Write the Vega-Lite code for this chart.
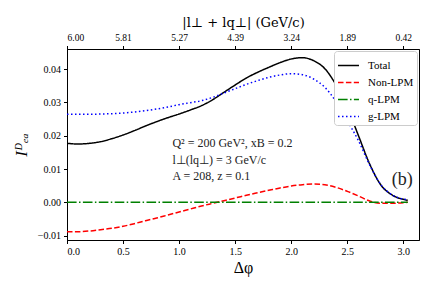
{
  "$schema": "https://vega.github.io/schema/vega-lite/v6.json",
  "width": 352,
  "height": 191,
  "autosize": "none",
  "padding": {"left": 67, "top": 49, "right": 17, "bottom": 51},
  "background": "white",
  "config": {
    "view": {"stroke": "black", "strokeWidth": 1},
    "font": "Liberation Serif",
    "axis": {
      "grid": false,
      "domainColor": "black",
      "domainWidth": 1,
      "tickColor": "black",
      "tickSize": 3.5,
      "labelColor": "black",
      "labelFont": "Liberation Serif",
      "labelFontSize": 10,
      "labelOverlap": false,
      "titleFont": "Liberation Serif",
      "titleFontWeight": "normal",
      "titleColor": "black",
      "labelPadding": 3
    },
    "legend": {
      "labelFont": "Liberation Serif",
      "labelFontSize": 11,
      "labelColor": "black"
    }
  },
  "datasets": {
    "curves": [
      {"dphi": 0.0, "series": "Total", "value": 0.0177},
      {"dphi": 0.1, "series": "Total", "value": 0.0175},
      {"dphi": 0.2, "series": "Total", "value": 0.0177},
      {"dphi": 0.3, "series": "Total", "value": 0.0182},
      {"dphi": 0.4, "series": "Total", "value": 0.0191},
      {"dphi": 0.5, "series": "Total", "value": 0.0202},
      {"dphi": 0.6, "series": "Total", "value": 0.0215},
      {"dphi": 0.7, "series": "Total", "value": 0.0229},
      {"dphi": 0.8, "series": "Total", "value": 0.0242},
      {"dphi": 0.9, "series": "Total", "value": 0.0254},
      {"dphi": 1.0, "series": "Total", "value": 0.0265},
      {"dphi": 1.1, "series": "Total", "value": 0.0277},
      {"dphi": 1.2, "series": "Total", "value": 0.0290},
      {"dphi": 1.3, "series": "Total", "value": 0.0308},
      {"dphi": 1.4, "series": "Total", "value": 0.0330},
      {"dphi": 1.5, "series": "Total", "value": 0.0352},
      {"dphi": 1.6, "series": "Total", "value": 0.0373},
      {"dphi": 1.7, "series": "Total", "value": 0.0390},
      {"dphi": 1.8, "series": "Total", "value": 0.0405},
      {"dphi": 1.9, "series": "Total", "value": 0.0419},
      {"dphi": 2.0, "series": "Total", "value": 0.0430},
      {"dphi": 2.1, "series": "Total", "value": 0.0434},
      {"dphi": 2.2, "series": "Total", "value": 0.0425},
      {"dphi": 2.3, "series": "Total", "value": 0.0401},
      {"dphi": 2.4, "series": "Total", "value": 0.0352},
      {"dphi": 2.5, "series": "Total", "value": 0.0285},
      {"dphi": 2.6, "series": "Total", "value": 0.0200},
      {"dphi": 2.7, "series": "Total", "value": 0.0115},
      {"dphi": 2.8, "series": "Total", "value": 0.0052},
      {"dphi": 2.9, "series": "Total", "value": 0.0022},
      {"dphi": 3.0, "series": "Total", "value": 0.0009},
      {"dphi": 3.04, "series": "Total", "value": 0.0006},
      {"dphi": 0.0, "series": "Non-LPM", "value": -0.0088},
      {"dphi": 0.1, "series": "Non-LPM", "value": -0.0088},
      {"dphi": 0.2, "series": "Non-LPM", "value": -0.0086},
      {"dphi": 0.3, "series": "Non-LPM", "value": -0.0082},
      {"dphi": 0.4, "series": "Non-LPM", "value": -0.0078},
      {"dphi": 0.5, "series": "Non-LPM", "value": -0.0072},
      {"dphi": 0.6, "series": "Non-LPM", "value": -0.0064},
      {"dphi": 0.7, "series": "Non-LPM", "value": -0.0055},
      {"dphi": 0.8, "series": "Non-LPM", "value": -0.0047},
      {"dphi": 0.9, "series": "Non-LPM", "value": -0.0038},
      {"dphi": 1.0, "series": "Non-LPM", "value": -0.0029},
      {"dphi": 1.1, "series": "Non-LPM", "value": -0.0020},
      {"dphi": 1.2, "series": "Non-LPM", "value": -0.0011},
      {"dphi": 1.3, "series": "Non-LPM", "value": -0.0003},
      {"dphi": 1.4, "series": "Non-LPM", "value": 0.0005},
      {"dphi": 1.5, "series": "Non-LPM", "value": 0.0013},
      {"dphi": 1.6, "series": "Non-LPM", "value": 0.0021},
      {"dphi": 1.7, "series": "Non-LPM", "value": 0.0029},
      {"dphi": 1.8, "series": "Non-LPM", "value": 0.0036},
      {"dphi": 1.9, "series": "Non-LPM", "value": 0.0043},
      {"dphi": 2.0, "series": "Non-LPM", "value": 0.0049},
      {"dphi": 2.1, "series": "Non-LPM", "value": 0.0053},
      {"dphi": 2.2, "series": "Non-LPM", "value": 0.0055},
      {"dphi": 2.3, "series": "Non-LPM", "value": 0.0053},
      {"dphi": 2.4, "series": "Non-LPM", "value": 0.0045},
      {"dphi": 2.5, "series": "Non-LPM", "value": 0.0033},
      {"dphi": 2.6, "series": "Non-LPM", "value": 0.0019},
      {"dphi": 2.7, "series": "Non-LPM", "value": 0.0004},
      {"dphi": 2.8, "series": "Non-LPM", "value": -0.0003},
      {"dphi": 2.9, "series": "Non-LPM", "value": -0.0003},
      {"dphi": 3.0, "series": "Non-LPM", "value": -0.0001},
      {"dphi": 3.04, "series": "Non-LPM", "value": 0.0},
      {"dphi": 0.0, "series": "q-LPM", "value": 0.0},
      {"dphi": 0.5, "series": "q-LPM", "value": 0.0},
      {"dphi": 1.0, "series": "q-LPM", "value": 0.0},
      {"dphi": 1.5, "series": "q-LPM", "value": 0.0},
      {"dphi": 2.0, "series": "q-LPM", "value": 0.0},
      {"dphi": 2.5, "series": "q-LPM", "value": 0.0},
      {"dphi": 3.0, "series": "q-LPM", "value": 0.0},
      {"dphi": 3.04, "series": "q-LPM", "value": 0.0},
      {"dphi": 0.0, "series": "g-LPM", "value": 0.0264},
      {"dphi": 0.1, "series": "g-LPM", "value": 0.0264},
      {"dphi": 0.2, "series": "g-LPM", "value": 0.0264},
      {"dphi": 0.3, "series": "g-LPM", "value": 0.0265},
      {"dphi": 0.4, "series": "g-LPM", "value": 0.0266},
      {"dphi": 0.5, "series": "g-LPM", "value": 0.0268},
      {"dphi": 0.6, "series": "g-LPM", "value": 0.0271},
      {"dphi": 0.7, "series": "g-LPM", "value": 0.0275},
      {"dphi": 0.8, "series": "g-LPM", "value": 0.0280},
      {"dphi": 0.9, "series": "g-LPM", "value": 0.0286},
      {"dphi": 1.0, "series": "g-LPM", "value": 0.0293},
      {"dphi": 1.1, "series": "g-LPM", "value": 0.0299},
      {"dphi": 1.2, "series": "g-LPM", "value": 0.0305},
      {"dphi": 1.3, "series": "g-LPM", "value": 0.0315},
      {"dphi": 1.4, "series": "g-LPM", "value": 0.0328},
      {"dphi": 1.5, "series": "g-LPM", "value": 0.0341},
      {"dphi": 1.6, "series": "g-LPM", "value": 0.0354},
      {"dphi": 1.7, "series": "g-LPM", "value": 0.0365},
      {"dphi": 1.8, "series": "g-LPM", "value": 0.0375},
      {"dphi": 1.9, "series": "g-LPM", "value": 0.0382},
      {"dphi": 2.0, "series": "g-LPM", "value": 0.0386},
      {"dphi": 2.1, "series": "g-LPM", "value": 0.0383},
      {"dphi": 2.2, "series": "g-LPM", "value": 0.0370},
      {"dphi": 2.3, "series": "g-LPM", "value": 0.0345},
      {"dphi": 2.4, "series": "g-LPM", "value": 0.0302},
      {"dphi": 2.5, "series": "g-LPM", "value": 0.0245},
      {"dphi": 2.6, "series": "g-LPM", "value": 0.0185},
      {"dphi": 2.7, "series": "g-LPM", "value": 0.0112},
      {"dphi": 2.8, "series": "g-LPM", "value": 0.0053},
      {"dphi": 2.9, "series": "g-LPM", "value": 0.0022},
      {"dphi": 3.0, "series": "g-LPM", "value": 0.0010},
      {"dphi": 3.04, "series": "g-LPM", "value": 0.0008}
    ]
  },
  "layer": [
    {
      "data": {"name": "curves"},
      "mark": {"type": "line", "strokeWidth": 1.5, "interpolate": "monotone", "clip": true, "strokeCap": "butt"},
      "encoding": {
        "x": {
          "field": "dphi", "type": "quantitative",
          "scale": {"domain": [0, 3.14], "nice": false, "zero": false},
          "axis": {
            "orient": "bottom",
            "values": [0, 0.5, 1, 1.5, 2, 2.5, 3],
            "format": ".1f",
            "title": "Δφ",
            "titleFontSize": 16,
            "titlePadding": 3
          }
        },
        "y": {
          "field": "value", "type": "quantitative",
          "scale": {"domain": [-0.0113, 0.046], "nice": false, "zero": false},
          "axis": {
            "orient": "left",
            "values": [-0.01, 0, 0.01, 0.02, 0.03, 0.04],
            "format": ".2f",
            "title": "Iᴰₑₐ",
            "titleFontStyle": "italic",
            "titleFontSize": 17,
            "titlePadding": 7
          }
        },
        "color": {
          "field": "series", "type": "nominal",
          "scale": {"domain": ["Total", "Non-LPM", "q-LPM", "g-LPM"], "range": ["#000000", "#ff0000", "#008000", "#0000ff"]},
          "legend": {
            "title": null,
            "orient": "top-right",
            "offset": 2,
            "fillColor": "white",
            "strokeColor": "#cccccc",
            "cornerRadius": 3,
            "padding": 3,
            "symbolType": "stroke",
            "symbolSize": 440,
            "symbolStrokeWidth": 1.5,
            "labelOffset": 8,
            "rowPadding": -9
          }
        },
        "strokeDash": {
          "field": "series", "type": "nominal",
          "scale": {"domain": ["Total", "Non-LPM", "q-LPM", "g-LPM"], "range": [[1, 0], [5.5, 2.4], [9.6, 2.4, 1.5, 2.4], [1.5, 2.5]]},
          "legend": {"title": null}
        },
        "order": {"field": "dphi", "type": "quantitative"}
      }
    },
    {
      "data": {"values": [{"label": "params"}]},
      "mark": {"type": "text", "align": "left", "baseline": "top", "fontSize": 12, "lineHeight": 16.5, "font": "Liberation Serif", "color": "#222222"},
      "encoding": {
        "x": {"datum": 0.94, "type": "quantitative", "axis": {"orient": "top", "domain": false, "ticks": false, "labels": false, "title": null}},
        "y": {
          "datum": 0.0192, "type": "quantitative",
          "axis": {
            "orient": "left",
            "values": [-0.01, 0, 0.01, 0.02, 0.03, 0.04],
            "format": ".2f",
            "title": "Iᴰₑₐ",
            "titleFontStyle": "italic",
            "titleFontSize": 17,
            "titlePadding": 7
          }
        },
        "text": {"value": ["Q² = 200 GeV², xB = 0.2", "l⊥(lq⊥) = 3 GeV/c", "A = 208,  z = 0.1"]}
      }
    },
    {
      "data": {"values": [{"label": "panel"}]},
      "mark": {"type": "text", "align": "center", "baseline": "middle", "fontSize": 18, "font": "Liberation Serif", "color": "#222222"},
      "encoding": {
        "x": {
          "datum": 2.99, "type": "quantitative",
          "axis": {
            "orient": "top",
            "values": [0, 0.5, 1, 1.5, 2, 2.5, 3],
            "labelExpr": "format(6*cos(datum.value/2), '.2f')",
            "labelFontSize": 9.5,
            "title": "|l⊥ + lq⊥| (GeV/c)",
            "titleFont": "DejaVu Serif",
            "titleFontSize": 13,
            "titlePadding": 3
          }
        },
        "y": {
          "datum": 0.0067, "type": "quantitative",
          "axis": {
            "orient": "left",
            "values": [-0.01, 0, 0.01, 0.02, 0.03, 0.04],
            "format": ".2f",
            "title": "Iᴰₑₐ",
            "titleFontStyle": "italic",
            "titleFontSize": 17,
            "titlePadding": 7
          }
        },
        "text": {"value": "(b)"}
      }
    }
  ]
}
